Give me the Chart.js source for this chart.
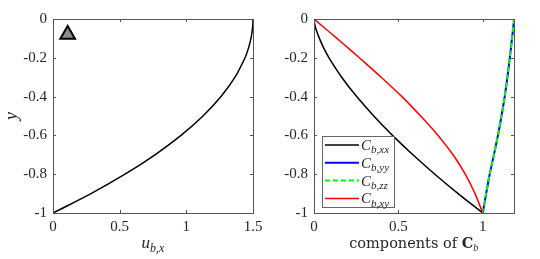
<!DOCTYPE html>
<html>
<head>
<meta charset="utf-8">
<script src="https://cdn.jsdelivr.net/npm/chart.js@4.4.1/dist/chart.umd.min.js"></script>
<style>
  html, body { margin: 0; padding: 0; background: #fff; }
  #wrap { position: relative; width: 540px; height: 259px; }
  #left { position: absolute; left: 0; top: 0; }
  #right { position: absolute; left: 270px; top: 0; }
</style>
</head>
<body>
<div id="wrap">
  <canvas id="left" width="270" height="259"></canvas>
  <canvas id="right" width="270" height="259"></canvas>
</div>
<script>
// ---------------------------------------------------------------
// data (y = wall-normal coordinate)
// ---------------------------------------------------------------
var yVals = [0, -0.025, -0.05, -0.1, -0.15, -0.2, -0.3, -0.4, -0.5, -0.6, -0.7, -0.8, -0.9, -1];

// left panel: u_b,x
var ubx = [1.5, 1.499, 1.496, 1.485, 1.466, 1.44, 1.365, 1.26, 1.125, 0.96, 0.765, 0.54, 0.285, 0];

// right panel: components of C_b
var cbxx = [0, 0.004, 0.011, 0.032, 0.058, 0.089, 0.164, 0.253, 0.354, 0.465, 0.586, 0.716, 0.854, 1];
var cbyy = [1.185, 1.183, 1.18, 1.173, 1.167, 1.16, 1.146, 1.13, 1.111, 1.09, 1.066, 1.041, 1.02, 1];
var cbzz = [1.185, 1.183, 1.18, 1.173, 1.167, 1.16, 1.146, 1.13, 1.111, 1.09, 1.066, 1.041, 1.02, 1];
var cbxy = [0, 0.034, 0.068, 0.136, 0.203, 0.269, 0.398, 0.521, 0.632, 0.735, 0.824, 0.896, 0.954, 1];

var marker = [{x: 0.11, y: -0.08}];

var xTicksL = [0, 0.5, 1, 1.5];
var xTicksR = [0, 0.5, 1];
var yTicks = [0, -0.2, -0.4, -0.6, -0.8, -1];

var legendNames = [['C', 'b,xx'], ['C', 'b,yy'], ['C', 'b,zz'], ['C', 'b,xy']];

var serif = '"Liberation Serif", "Times New Roman", serif';
var wideSerif = '"DejaVu Serif", serif';
var frameCol = '#555555';
var textCol = '#262626';

var pts = function(xs){
  return yVals.map(function(y, i){ return {x: xs[i], y: y}; });
};

// ---------------------------------------------------------------
// frame box + inward ticks (matlab style)
// ---------------------------------------------------------------
var frame = {
  id: 'frame',
  afterDraw: function(chart){
    var a = chart.chartArea, ctx = chart.ctx;
    var sx = chart.scales.x, sy = chart.scales.y;
    ctx.save();
    ctx.strokeStyle = frameCol;
    ctx.lineWidth = 1;
    ctx.beginPath();
    sx.ticks.forEach(function(t){
      var px = Math.round(sx.getPixelForValue(t.value)) + 0.5;
      ctx.moveTo(px, a.bottom); ctx.lineTo(px, a.bottom - 3);
      ctx.moveTo(px, a.top); ctx.lineTo(px, a.top + 3);
    });
    sy.ticks.forEach(function(t){
      var py = Math.round(sy.getPixelForValue(t.value)) + 0.5;
      ctx.moveTo(a.left, py); ctx.lineTo(a.left + 3, py);
      ctx.moveTo(a.right, py); ctx.lineTo(a.right - 3, py);
    });
    ctx.stroke();
    ctx.strokeRect(Math.round(a.left) + 0.5, Math.round(a.top) + 0.5,
                   Math.round(a.right - a.left), Math.round(a.bottom - a.top));
    ctx.restore();
  }
};

// text with a subscript, returns width
var subText = function(ctx, x, y, main, sub, size, mainFont, subFont, fam){
  fam = fam || serif;
  ctx.font = mainFont + ' ' + size + 'px ' + fam;
  ctx.fillText(main, x, y);
  var w = ctx.measureText(main).width;
  ctx.font = subFont + ' ' + Math.round(size * 0.7) + 'px ' + serif;
  ctx.fillText(sub, x + w, y + size * 0.22);
  return w + ctx.measureText(sub).width;
};

var titles = {
  id: 'titles',
  afterDraw: function(chart, args, opts){
    var ctx = chart.ctx, a = chart.chartArea;
    ctx.save();
    ctx.fillStyle = textCol;
    ctx.textBaseline = 'alphabetic';
    ctx.textAlign = 'left';
    var cx = (a.left + a.right) / 2;
    if (opts.which === 'left') {
      // x title u_{b,x}
      ctx.font = 'italic 17px ' + serif;
      var w1 = ctx.measureText('u').width;
      ctx.font = 'italic 12px ' + serif;
      var w2 = ctx.measureText('b,x').width;
      subText(ctx, cx - (w1 + w2) / 2, 248, 'u', 'b,x', 17, 'italic', 'italic');
      // y title
      ctx.translate(17, (a.top + a.bottom) / 2);
      ctx.rotate(-Math.PI / 2);
      ctx.font = 'italic 18px ' + serif;
      ctx.textAlign = 'center';
      ctx.fillText('y', 0, 0);
    } else {
      ctx.font = '14.5px ' + wideSerif;
      var s1 = 'components of ';
      var ws = ctx.measureText(s1).width;
      ctx.font = 'bold 14.5px ' + wideSerif;
      var wc = ctx.measureText('C').width;
      ctx.font = 'italic 11px ' + serif;
      var wb = ctx.measureText('b').width;
      var x0 = cx - (ws + wc + wb) / 2;
      ctx.font = '14.5px ' + wideSerif;
      ctx.fillText(s1, x0, 248);
      subText(ctx, x0 + ws, 248, 'C', 'b', 14.5, 'bold', 'italic', wideSerif);
      // legend
      var lx = 322 - 270, ly = 136, lw = 72, lh = 71;
      ctx.fillStyle = '#ffffff';
      ctx.fillRect(lx, ly, lw, lh);
      ctx.strokeStyle = '#666666';
      ctx.lineWidth = 1;
      ctx.strokeRect(lx + 0.5, ly + 0.5, lw, lh);
      var ds = chart.data.datasets;
      legendNames.forEach(function(nm, i){
        var d = ds[i];
        var yy = ly + 9 + i * 17.8;
        ctx.save();
        ctx.strokeStyle = d.borderColor;
        ctx.lineWidth = d.borderWidth;
        ctx.setLineDash(d.borderDash || []);
        ctx.beginPath();
        ctx.moveTo(lx + 3, yy); ctx.lineTo(lx + 37, yy);
        ctx.stroke();
        ctx.restore();
        ctx.fillStyle = textCol;
        subText(ctx, lx + 39, yy + 5, nm[0], nm[1], 15, 'italic', 'italic');
      });
    }
    ctx.restore();
  }
};

var tickFont = {family: serif, size: 15};

var makeScales = function(xmax, xt, yWidth){
  return {
    x: {
      type: 'linear', min: 0, max: xmax,
      afterBuildTicks: function(s){ s.ticks = xt.map(function(v){ return {value: v}; }); },
      afterFit: function(s){ s.height = 46; },
      grid: {display: false, drawTicks: false},
      border: {display: false},
      ticks: {font: tickFont, color: textCol, padding: 5, maxRotation: 0,
              callback: function(v){ return String(v); }}
    },
    y: {
      type: 'linear', min: -1, max: 0,
      afterBuildTicks: function(s){ s.ticks = yTicks.map(function(v){ return {value: v}; }); },
      afterFit: function(s){ s.width = yWidth; },
      grid: {display: false, drawTicks: false},
      border: {display: false},
      ticks: {font: tickFont, color: textCol, padding: 6,
              callback: function(v){ return String(v); }}
    }
  };
};

var baseOpts = function(xmax, xt, yWidth, padRight, which){
  return {
    responsive: false,
    animation: false,
    layout: {padding: {left: 0, right: padRight, top: 19, bottom: 0}},
    plugins: {legend: {display: false}, tooltip: {enabled: false}, titles: {which: which}},
    elements: {point: {radius: 0}, line: {tension: 0.3}},
    scales: makeScales(xmax, xt, yWidth)
  };
};

// ---------------------------------------------------------------
// left panel
// ---------------------------------------------------------------
new Chart(document.getElementById('left').getContext('2d'), {
  type: 'scatter',
  data: {
    datasets: [{
      data: pts(ubx), showLine: true, borderColor: '#000000', borderWidth: 1.5, order: 2
    }, {
      data: marker, showLine: false, pointStyle: 'triangle', pointRadius: 8.5,
      backgroundColor: '#8c8c8c', borderColor: '#000000', borderWidth: 2, order: 1
    }]
  },
  options: baseOpts(1.5, xTicksL, 53, 17, 'left'),
  plugins: [frame, titles]
});

// ---------------------------------------------------------------
// right panel
// ---------------------------------------------------------------
new Chart(document.getElementById('right').getContext('2d'), {
  type: 'scatter',
  data: {
    datasets: [
      {data: pts(cbxx), showLine: true, borderColor: '#000000', borderWidth: 1.5, order: 3},
      {data: pts(cbyy), showLine: true, borderColor: '#0000ff', borderWidth: 2, order: 2},
      {data: pts(cbzz), showLine: true, borderColor: '#00ff00', borderWidth: 2, borderDash: [5, 3], order: 1},
      {data: pts(cbxy), showLine: true, borderColor: '#ff0000', borderWidth: 1.5, order: 4}
    ]
  },
  options: baseOpts(1.185, xTicksR, 44, 26, 'right'),
  plugins: [frame, titles]
});
</script>
</body>
</html>
